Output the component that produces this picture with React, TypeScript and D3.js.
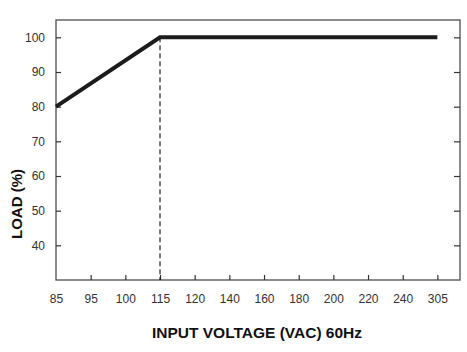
import React, { useEffect, useRef } from 'react';
import * as d3 from 'd3';

// Input voltage categories (evenly spaced on the x axis)
const voltages = ['85', '95', '100', '115', '120', '140', '160', '180', '200', '220', '240', '305'];
// Derating curve: load % at each voltage break point
const curveVoltages = ['85', '115', '305'];
const curveLoads = [80, 100, 100];
const loadTicks = [40, 50, 60, 70, 80, 90, 100];

function App() {
  const ref = useRef<SVGSVGElement>(null);

  useEffect(() => {
    const width = 467;
    const height = 352;
    const left = 56;
    const right = 460;
    const top = 20;
    const bottom = 280;
    const step = 34.67;

    const svg = d3.select(ref.current);
    svg.selectAll('*').remove();

    const x = d3.scalePoint<string>()
      .domain(voltages)
      .range([left, left + step * (voltages.length - 1)]);

    const y = d3.scaleLinear().domain([30, 105]).range([bottom, top]);

    const font = '"Liberation Sans", Arial, sans-serif';

    // frame
    svg.append('rect')
      .attr('x', left)
      .attr('y', top)
      .attr('width', right - left)
      .attr('height', bottom - top)
      .attr('fill', 'none')
      .attr('stroke', '#5a5a5a')
      .attr('stroke-width', 1.4);

    // left axis, ticks pointing inside
    const yAxis = svg.append('g')
      .attr('transform', `translate(${left},0)`)
      .call(d3.axisLeft(y).tickValues(loadTicks).tickSize(-5).tickPadding(11));
    yAxis.select('.domain').remove();
    yAxis.selectAll('line').attr('stroke', '#333').attr('stroke-width', 1.2);
    yAxis.selectAll('text')
      .attr('font-family', font)
      .attr('font-size', 12)
      .attr('fill', '#333');

    // right side ticks, also inside
    const yRight = svg.append('g')
      .attr('transform', `translate(${right},0)`)
      .call(d3.axisRight(y).tickValues(loadTicks).tickSize(-6).tickFormat(() => ''));
    yRight.select('.domain').remove();
    yRight.selectAll('line').attr('stroke', '#333').attr('stroke-width', 1.2);

    // bottom axis, ticks pointing up
    const xAxis = svg.append('g')
      .attr('transform', `translate(0,${bottom})`)
      .call(d3.axisBottom(x).tickSize(-5).tickPadding(14));
    xAxis.select('.domain').remove();
    xAxis.selectAll('line')
      .attr('stroke', '#333')
      .attr('stroke-width', 1.2)
      .attr('opacity', (d: any) => (d === voltages[0] ? 0 : 1));
    xAxis.selectAll('text')
      .attr('font-family', font)
      .attr('font-size', 12)
      .attr('fill', '#333');

    // dashed marker at the knee of the curve
    svg.append('line')
      .attr('x1', x('115')!)
      .attr('x2', x('115')!)
      .attr('y1', y(100))
      .attr('y2', bottom)
      .attr('stroke', '#111')
      .attr('stroke-width', 1.1)
      .attr('stroke-dasharray', '5,3');

    // derating curve
    const pts = curveVoltages.map((v, i) => [x(v)!, y(curveLoads[i])] as [number, number]);
    svg.append('path')
      .attr('d', d3.line()(pts))
      .attr('fill', 'none')
      .attr('stroke', '#1c1c1c')
      .attr('stroke-width', 4)
      .attr('stroke-linejoin', 'miter');

    // axis titles
    svg.append('text')
      .attr('x', 257)
      .attr('y', 338)
      .attr('text-anchor', 'middle')
      .attr('font-family', font)
      .attr('font-weight', 'bold')
      .attr('font-size', 15.5)
      .attr('fill', '#111')
      .text('INPUT VOLTAGE (VAC) 60Hz');

    svg.append('text')
      .attr('transform', `translate(22,${204}) rotate(-90)`)
      .attr('text-anchor', 'middle')
      .attr('font-family', font)
      .attr('font-weight', 'bold')
      .attr('font-size', 15)
      .attr('fill', '#111')
      .text('LOAD (%)');

    svg.attr('width', width).attr('height', height);
  }, []);

  return (
    <svg
      ref={ref}
      width={467}
      height={352}
      style={{ position: 'absolute', left: 0, top: 0, background: '#fff' }}
    />
  );
}

export default App;
